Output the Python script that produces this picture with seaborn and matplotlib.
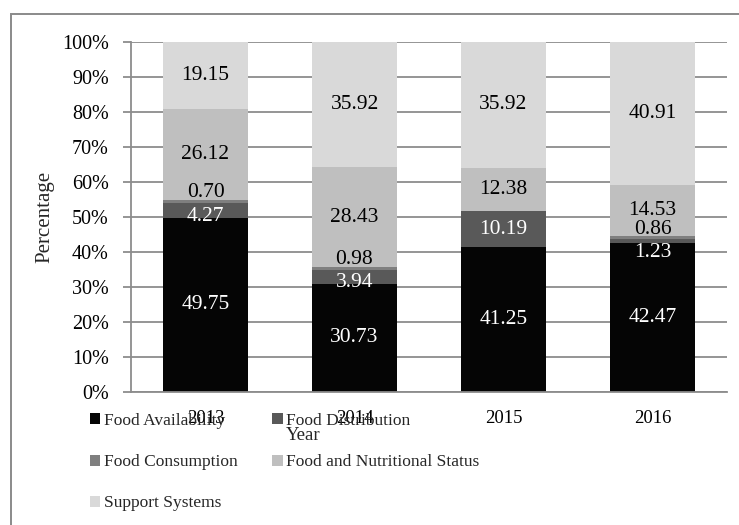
import numpy as np
import pandas as pd
import matplotlib
matplotlib.use("Agg")
import matplotlib.pyplot as plt
import seaborn as sns
from matplotlib.patches import Patch, Rectangle

# ---- data ----
years = ["2013", "2014", "2015", "2016"]
categories = ["Food Availability", "Food Distribution", "Food Consumption",
              "Food and Nutritional Status", "Support Systems"]
food_availability = [49.75, 30.73, 41.25, 42.47]
food_distribution = [4.27, 3.94, 10.19, 1.23]
food_consumption = [0.70, 0.98, 0.0, 0.86]
food_nutritional_status = [26.12, 28.43, 12.38, 14.53]
support_systems = [19.15, 35.92, 35.92, 40.91]

# ---- styles ----
colors = ["#050505", "#595959", "#7f7f7f", "#bfbfbf", "#d9d9d9"]
label_colors = ["white", "white", "black", "black", "black"]
# small vertical nudges (percentage points) for crowded labels
label_nudge = [
    [0, 0, 0, 0],
    [-1.7, -1.6, 0, -3.2],
    [2.6, 2.6, 0, 2.3],
    [0, 0, 0, 0],
    [0, 0, 0, 0],
]

series = [food_availability, food_distribution, food_consumption,
          food_nutritional_status, support_systems]
vals = np.array(series, dtype=float)          # (5, 4)
shares = vals / vals.sum(axis=0) * 100.0
tops = np.cumsum(shares, axis=0)
bottoms = tops - shares

sns.set_theme(style="white")
plt.rcParams["font.family"] = ["Liberation Serif", "DejaVu Serif"]

fig = plt.figure(figsize=(7.39, 5.25), dpi=100)
W, H = 739, 525
ax_l, ax_r, ax_t, ax_b = 131, 727, 41.7, 391.7
ax = fig.add_axes([ax_l / W, 1 - ax_b / H, (ax_r - ax_l) / W, (ax_b - ax_t) / H])

# outer frame (extends past right/bottom edges like the reference)
fig.patches.append(Rectangle((11 / W, -0.1), 1.2, 1 - 13.7 / H + 0.1,
                             transform=fig.transFigure, fill=False,
                             edgecolor="#8a8a8a", lw=1.4, zorder=0))

# draw stacked bars from top layer down (cumulative heights)
for i in range(len(categories) - 1, -1, -1):
    df = pd.DataFrame({"Year": years, "Top": tops[i]})
    sns.barplot(data=df, x="Year", y="Top", color=colors[i], width=0.57,
                saturation=1, edgecolor="none", linewidth=0, ax=ax, zorder=2)

# data labels
for i in range(len(categories)):
    for j in range(len(years)):
        v = vals[i, j]
        if v <= 0:
            continue
        y = bottoms[i, j] + shares[i, j] / 2 + label_nudge[i][j]
        ax.text(j, y, f"{v:.2f}", ha="center", va="center",
                color=label_colors[i], fontsize=15.5, zorder=5)

ax.set_ylim(0, 100)
ax.set_xlim(-0.5, 3.5)
ax.set_yticks(np.arange(0, 101, 10))
ax.set_yticklabels([f"{t}%" for t in range(0, 101, 10)], fontsize=14.5)
ax.yaxis.grid(True, color="#8c8c8c", lw=1.3, zorder=0)
ax.xaxis.grid(False)
ax.set_axisbelow(True)
for s in ["top", "right"]:
    ax.spines[s].set_visible(False)
for s in ["left", "bottom"]:
    ax.spines[s].set_color("#8c8c8c")
    ax.spines[s].set_linewidth(1.3)
ax.tick_params(axis="y", left=True, length=6, width=1.3, color="#8c8c8c",
               pad=10, labelcolor="black")
ax.tick_params(axis="x", bottom=False, length=0, pad=13, labelsize=13.5,
               labelcolor="black")

ax.set_ylabel("Percentage", fontsize=15)
ax.yaxis.set_label_coords((45 - ax_l) / (ax_r - ax_l), 0.5)
ax.yaxis.label.set_va("center")
ax.set_xlabel("Year", fontsize=13.5)
ax.xaxis.set_label_coords((303 - ax_l) / (ax_r - ax_l), (ax_b - 435) / (ax_b - ax_t))
ax.xaxis.label.set_va("center")

# legend (row-major order displayed with 2 columns)
handles = [Patch(facecolor=colors[i], edgecolor="none", label=categories[i])
           for i in range(len(categories))]
order = [0, 2, 4, 1, 3]
fig.legend([handles[k] for k in order], [categories[k] for k in order],
           ncol=2, loc="upper left", bbox_to_anchor=(90 / W, 1 - 413 / H),
           frameon=False, fontsize=12.5, borderpad=0, borderaxespad=0,
           handlelength=0.6, handleheight=0.6, handletextpad=0.2,
           labelspacing=1.45, columnspacing=2.0)

fig.savefig("out.png", dpi=100)
